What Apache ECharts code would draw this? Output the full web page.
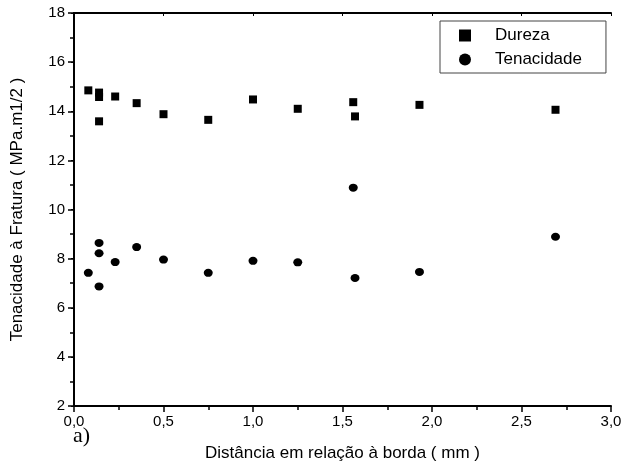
<!DOCTYPE html>
<html>
<head>
<meta charset="utf-8">
<script src="https://cdn.jsdelivr.net/npm/echarts@6/dist/echarts.min.js"></script>
<style>
  html, body { margin: 0; padding: 0; background: #fff; }
  #chart { width: 625px; height: 468px; }
</style>
</head>
<body>
<div id="chart"></div>
<script>
// distance from edge (mm)
const durezaX = [0.08, 0.14, 0.14, 0.14, 0.23, 0.35, 0.50, 0.75, 1.00, 1.25, 1.56, 1.57, 1.93, 2.69]
const durezaY = [14.85, 14.76, 14.58, 13.59, 14.60, 14.33, 13.88, 13.65, 14.48, 14.10, 14.37, 13.79, 14.26, 14.06]
const tenacX = [0.08, 0.14, 0.14, 0.14, 0.23, 0.35, 0.50, 0.75, 1.00, 1.25, 1.56, 1.57, 1.93, 2.69]
const tenacY = [7.42, 8.64, 8.22, 6.87, 7.86, 8.47, 7.96, 7.42, 7.91, 7.85, 10.89, 7.21, 7.46, 8.89]

const fontFam = '"Liberation Sans", Arial, sans-serif'

function pairs(xs, ys) {
  return xs.map((x, i) => [x, ys[i]])
}

const chart = echarts.init(document.getElementById('chart'))

const axisLine = {show: true, lineStyle: {color: '#000', width: 2}}

const option = {
  animation: false,
  grid: {left: 74, right: 14, top: 13, bottom: 62, show: false},
  legend: {
    left: 440,
    top: 21,
    orient: 'vertical',
    padding: [6, 24, 5, 19],
    itemGap: 7,
    itemWidth: 12,
    itemHeight: 12,
    borderColor: '#444',
    borderWidth: 1,
    textStyle: {fontFamily: fontFam, fontSize: 17, color: '#000', padding: [0, 0, 0, 19]},
    data: [
      {name: 'Dureza', itemStyle: {opacity: 1}},
      {name: 'Tenacidade', itemStyle: {opacity: 1}}
    ]
  },
  xAxis: [{
    type: 'value',
    min: 0,
    max: 3,
    interval: 0.5,
    name: 'Distância em relação à borda ( mm )',
    nameLocation: 'middle',
    nameGap: 39,
    nameTextStyle: {fontFamily: fontFam, fontSize: 17, color: '#000'},
    axisLine: axisLine,
    axisTick: {show: true, inside: false, length: 6, lineStyle: {color: '#000', width: 1.5}},
    minorTick: {show: true, splitNumber: 2, length: 4, lineStyle: {color: '#000', width: 1.5}},
    axisLabel: {
      fontFamily: fontFam, fontSize: 15, color: '#000', margin: 8,
      formatter: v => v.toFixed(1).replace('.', ',')
    },
    splitLine: {show: false}
  }, {
    type: 'value',
    position: 'top',
    min: 0,
    max: 3,
    interval: 0.5,
    axisLine: axisLine,
    axisTick: {show: true, inside: true, length: 3, lineStyle: {color: '#000'}},
    axisLabel: {show: false},
    splitLine: {show: false}
  }],
  yAxis: [{
    type: 'value',
    min: 2,
    max: 18,
    interval: 2,
    name: 'Tenacidade à Fratura ( MPa.m1/2 )',
    nameLocation: 'middle',
    nameGap: 48,
    nameTextStyle: {fontFamily: fontFam, fontSize: 17, color: '#000'},
    axisLine: axisLine,
    axisTick: {show: true, inside: false, length: 6, lineStyle: {color: '#000', width: 1.5}},
    minorTick: {show: true, splitNumber: 2, length: 4, lineStyle: {color: '#000', width: 1.5}},
    axisLabel: {fontFamily: fontFam, fontSize: 15, color: '#000', margin: 9},
    splitLine: {show: false}
  }, {
    type: 'value',
    position: 'right',
    min: 2,
    max: 18,
    interval: 2,
    axisLine: axisLine,
    axisTick: {show: true, inside: true, length: 3, lineStyle: {color: '#000'}},
    axisLabel: {show: false},
    splitLine: {show: false}
  }],
  graphic: [{
    type: 'text',
    left: 73,
    top: 425,
    style: {text: 'a)', font: '22px "Liberation Serif", "Times New Roman", serif', fill: '#000'}
  }],
  series: [{
    name: 'Dureza',
    type: 'scatter',
    symbol: 'rect',
    symbolSize: 8,
    itemStyle: {color: '#000', opacity: 1},
    data: pairs(durezaX, durezaY)
  }, {
    name: 'Tenacidade',
    type: 'scatter',
    symbol: 'circle',
    symbolSize: [9, 8],
    itemStyle: {color: '#000', opacity: 1},
    data: pairs(tenacX, tenacY)
  }]
}

chart.setOption(option)
window.onresize = function () {
  chart.resize()
}
</script>
</body>
</html>
